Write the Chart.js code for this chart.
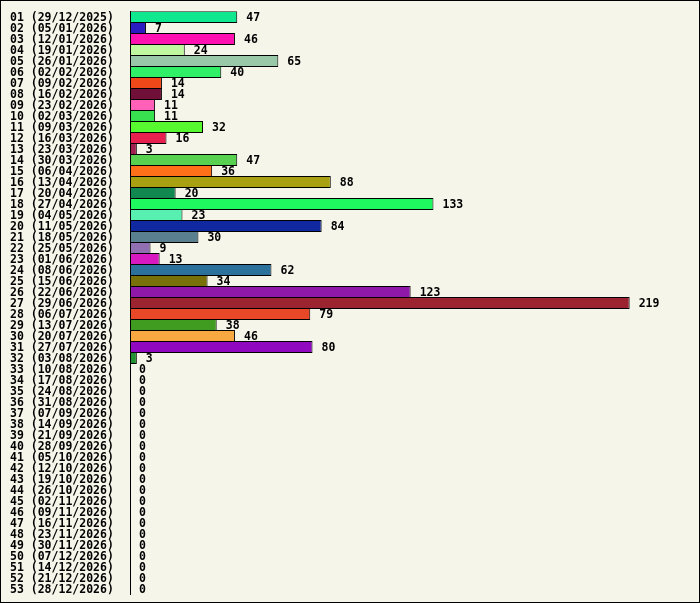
<!DOCTYPE html>
<html>
<head>
<meta charset="utf-8">
<script src="https://cdn.jsdelivr.net/npm/chart.js@4/dist/chart.umd.min.js"></script>
<style>
  html, body { margin: 0; padding: 0; background: #f5f5ea; }
  .frame { width: 698px; height: 601px; border: 1px solid #000; background: #f5f5ea; }
  canvas { display: block; }
</style>
</head>
<body>
<div class="frame"><canvas id="chart" width="698" height="601"></canvas></div>
<script>
const weeks = [
  '01 (29/12/2025)', '02 (05/01/2026)', '03 (12/01/2026)', '04 (19/01/2026)', '05 (26/01/2026)',
  '06 (02/02/2026)', '07 (09/02/2026)', '08 (16/02/2026)', '09 (23/02/2026)', '10 (02/03/2026)',
  '11 (09/03/2026)', '12 (16/03/2026)', '13 (23/03/2026)', '14 (30/03/2026)', '15 (06/04/2026)',
  '16 (13/04/2026)', '17 (20/04/2026)', '18 (27/04/2026)', '19 (04/05/2026)', '20 (11/05/2026)',
  '21 (18/05/2026)', '22 (25/05/2026)', '23 (01/06/2026)', '24 (08/06/2026)', '25 (15/06/2026)',
  '26 (22/06/2026)', '27 (29/06/2026)', '28 (06/07/2026)', '29 (13/07/2026)', '30 (20/07/2026)',
  '31 (27/07/2026)', '32 (03/08/2026)', '33 (10/08/2026)', '34 (17/08/2026)', '35 (24/08/2026)',
  '36 (31/08/2026)', '37 (07/09/2026)', '38 (14/09/2026)', '39 (21/09/2026)', '40 (28/09/2026)',
  '41 (05/10/2026)', '42 (12/10/2026)', '43 (19/10/2026)', '44 (26/10/2026)', '45 (02/11/2026)',
  '46 (09/11/2026)', '47 (16/11/2026)', '48 (23/11/2026)', '49 (30/11/2026)', '50 (07/12/2026)',
  '51 (14/12/2026)', '52 (21/12/2026)', '53 (28/12/2026)'
];

const counts = [
  47, 7, 46, 24, 65, 40, 14, 14, 11, 11,
  32, 16, 3, 47, 36, 88, 20, 133, 23, 84,
  30, 9, 13, 62, 34, 123, 219, 79, 38, 46,
  80, 3, 0, 0, 0, 0, 0, 0, 0, 0,
  0, 0, 0, 0, 0, 0, 0, 0, 0, 0,
  0, 0, 0
];

const barColors = [
  '#10e890', '#2a1cc0', '#ff10b0', '#c0f8a0', '#98c8a8', '#30f068', '#f04818', '#701038', '#ff60b8', '#38e050',
  '#58f830', '#e82050', '#a02050', '#58d050', '#ff7018', '#a8a010', '#108850', '#20f860', '#58f0b0', '#1028a0',
  '#5a8090', '#9070b0', '#d818c0', '#2c709c', '#787008', '#9018a8', '#9c2430', '#e84828', '#409c20', '#f8a840',
  '#9008c0', '#209030'
];

const labelFont = 'bold 11.5px "DejaVu Sans Mono", monospace';

// writes the count just right of each bar
const valueLabels = {
  id: 'valueLabels',
  afterDatasetsDraw(chart) {
    const ctx = chart.ctx;
    const meta = chart.getDatasetMeta(0);
    ctx.save();
    ctx.font = labelFont;
    ctx.fillStyle = '#000';
    ctx.textAlign = 'left';
    ctx.textBaseline = 'middle';
    meta.data.forEach((bar, i) => {
      ctx.fillText(String(counts[i]), bar.x + 9, bar.y + 1);
    });
    ctx.restore();
  }
};

new Chart(document.getElementById('chart'), {
  type: 'bar',
  data: {
    labels: weeks,
    datasets: [{
      data: counts,
      backgroundColor: barColors,
      borderColor: '#000',
      borderWidth: 1,
      borderSkipped: false,
      barPercentage: 12 / 11,
      categoryPercentage: 1,
    }],
  },
  plugins: [valueLabels],
  options: {
    indexAxis: 'y',
    responsive: false,
    animation: false,
    layout: { padding: { left: 9, right: 10, top: 10.5, bottom: 7.5 } },
    plugins: {
      legend: { display: false },
      tooltip: { enabled: false },
    },
    scales: {
      x: {
        display: false,
        min: 0,
        max: 245,
      },
      y: {
        grid: { display: false, drawTicks: false },
        border: { display: true, color: '#000', width: 1 },
        afterFit(scale) {
          scale.width = 120;
        },
        ticks: {
          autoSkip: false,
          padding: 0,
          labelOffset: 1.5,
          crossAlign: 'far',
          color: '#000',
          font: { family: '"DejaVu Sans Mono", monospace', size: 11.5, weight: 'bold' },
        },
      },
    },
  },
});
</script>
</body>
</html>
